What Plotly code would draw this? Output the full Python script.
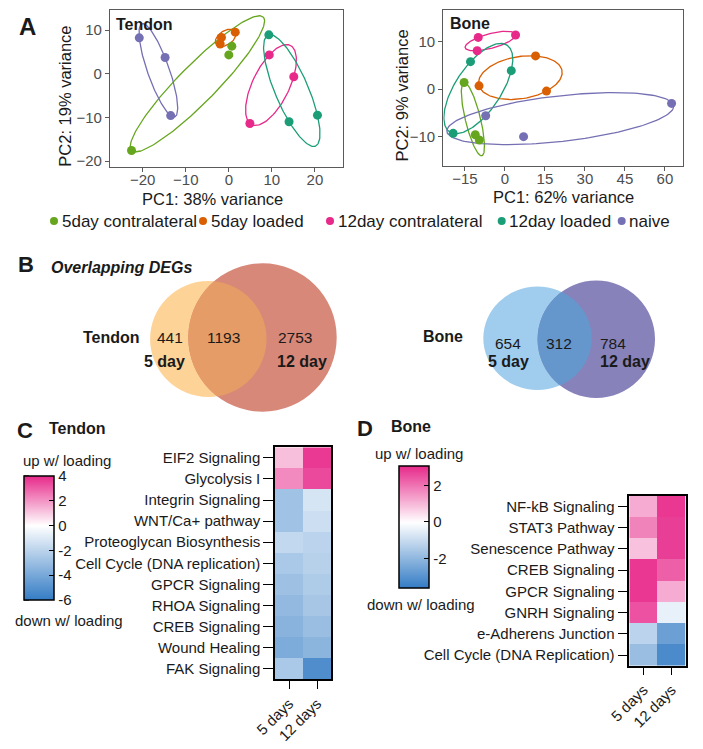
import numpy as np
import plotly.graph_objects as go

W, H = 703, 749
FONT = "Liberation Sans, Arial, Helvetica, sans-serif"

# ---------------- data ----------------
groups = ["5day contralateral", "5day loaded", "12day contralateral", "12day loaded", "naive"]
group_colors = ["#66A61E", "#D95F02", "#E7298A", "#1B9E77", "#7570B3"]

tendon_group = (["5day contralateral"] * 3 + ["5day loaded"] * 3 + ["12day contralateral"] * 3
                + ["12day loaded"] * 3 + ["naive"] * 3)
tendon_pc1 = [-22.6, 0.0, 0.7, -2.0, -1.7, 1.5, 9.4, 15.1, 4.9, 9.3, 14.0, 20.6, -20.8, -14.8, -13.5]
tendon_pc2 = [-17.6, 4.3, 6.3, 6.8, 8.3, 9.5, 4.3, -0.7, -11.4, 8.9, -11.0, -9.5, 8.2, 3.7, -9.6]

bone_group = list(tendon_group)
bone_pc1 = [-15.3, -11.1, -9.6, 11.5, -9.7, 15.6, -10.0, -10.4, 4.0, -12.9, 2.4, -19.4, -7.2, 7.0, 62.5]
bone_pc2 = [1.4, -9.6, -10.7, 7.0, 0.7, -0.4, 10.9, 8.1, 11.4, 5.8, 3.9, -9.3, -5.6, -10.0, -3.0]

tendon_xticks = [-20, -10, 0, 10, 20]
tendon_yticks = [-20, -10, 0, 10]
bone_xticks = [-15, 0, 15, 30, 45, 60]
bone_yticks = [-10, 0, 10]

venn_tendon = [441, 1193, 2753]
venn_bone = [654, 312, 784]

days = ["5 days", "12 days"]
tendon_pathways = ["EIF2 Signaling", "Glycolysis I", "Integrin Signaling", "WNT/Ca+ pathway",
                   "Proteoglycan Biosynthesis", "Cell Cycle (DNA replication)", "GPCR Signaling",
                   "RHOA Signaling", "CREB Signaling", "Wound Healing", "FAK Signaling"]
tendon_5d = [1.2, 2.2, -2.8, -2.8, -1.8, -2.5, -2.9, -3.2, -3.5, -3.8, -2.5]
tendon_12d = [3.7, 3.4, -1.2, -1.5, -2.0, -2.1, -2.4, -2.6, -3.0, -3.4, -5.2]
tendon_cb_ticks = [4, 2, 0, -2, -4, -6]

bone_pathways = ["NF-kB Signaling", "STAT3 Pathway", "Senescence Pathway", "CREB Signaling",
                 "GPCR Signaling", "GNRH Signaling", "e-Adherens Junction", "Cell Cycle (DNA Replication)"]
bone_5d = [1.2, 1.8, 0.9, 2.9, 2.9, 2.5, -1.2, -1.8]
bone_12d = [2.9, 2.8, 2.8, 2.3, 1.2, -0.4, -2.6, -3.2]
bone_cb_ticks = [2, 0, -2]


# ---------------- helpers ----------------
def px(x):
    return x / W


def py(y):
    return 1 - y / H


def ann(text, x, y, size, xanchor="center", yanchor="middle", color="#1a1a1a", angle=0):
    return dict(text=text, x=px(x), y=py(y), xref="paper", yref="paper", showarrow=False,
                xanchor=xanchor, yanchor=yanchor, textangle=angle,
                font=dict(size=size, color=color, family=FONT))


def group_ellipse(xs, ys, sx, sy, min_semi_px=7.0, min_ratio=0.2, n=160):
    """Ellipse around the group's points (mean + sqrt(4/3)*cov^(1/2)); the minor axis is
    kept at least min_ratio of the major axis (and min_semi_px) so thin groups stay visible."""
    k = np.sqrt(4 / 3)
    pts = np.column_stack([np.asarray(xs) * sx, np.asarray(ys) * sy])
    c = pts.mean(axis=0)
    cov = np.cov(pts.T)
    vals, vecs = np.linalg.eigh(cov)
    vals = np.maximum(vals, 0)
    vals[0] = max(vals[0], (min_ratio ** 2) * vals[1], (min_semi_px / k) ** 2)
    vals[1] = max(vals[1], (min_semi_px / k) ** 2)
    t = np.linspace(0, 2 * np.pi, n)
    circ = np.vstack([np.cos(t), np.sin(t)])
    e = c[:, None] + k * (vecs @ np.diag(np.sqrt(vals)) @ circ)
    return e[0] / sx, e[1] / sy


def poly_path(points):
    return "M " + " L ".join(f"{px(a):.5f},{py(b):.5f}" for a, b in points) + " Z"


def lens(c1, r1, c2, r2, n=400):
    t = np.linspace(0, 2 * np.pi, n, endpoint=False)
    pts = []
    for (c, r, co, ro) in [(c1, r1, c2, r2), (c2, r2, c1, r1)]:
        for a in t:
            x = c[0] + r[0] * np.cos(a)
            y = c[1] + r[1] * np.sin(a)
            if ((x - co[0]) / ro[0]) ** 2 + ((y - co[1]) / ro[1]) ** 2 <= 1:
                pts.append((x, y))
    pts = np.array(pts)
    m = pts.mean(axis=0)
    ang = np.arctan2(pts[:, 1] - m[1], pts[:, 0] - m[0])
    pts = pts[np.argsort(ang)]
    return poly_path(pts)


# panel geometry (pixels) and axis ranges
T_X_PX, T_Y_PX = (110, 343.3), (10, 167)
B_X_PX, B_Y_PX = (443.3, 682.5), (10, 166)
T_XR, T_YR = [-27.6, 26.6], [-21.37, 14.58]
B_XR, B_YR = [-23.1, 66.6], [-16.17, 16.67]

fig = go.Figure()

# ---------------- panel A: PCA scatter ----------------
panels = [
    (tendon_pc1, tendon_pc2, tendon_group, "x", "y", T_X_PX, T_Y_PX, T_XR, T_YR),
    (bone_pc1, bone_pc2, bone_group, "x2", "y2", B_X_PX, B_Y_PX, B_XR, B_YR),
]
for xs_all, ys_all, gs_all, xa, ya, xpx, ypx, xr, yr in panels:
    sx = (xpx[1] - xpx[0]) / (xr[1] - xr[0])
    sy = (ypx[1] - ypx[0]) / (yr[1] - yr[0])
    for g, col in zip(groups, group_colors):
        xs = [x for x, gg in zip(xs_all, gs_all) if gg == g]
        ys = [y for y, gg in zip(ys_all, gs_all) if gg == g]
        ex, ey = group_ellipse(xs, ys, sx, sy)
        fig.add_trace(go.Scatter(x=ex, y=ey, mode="lines", line=dict(color=col, width=1.3),
                                 xaxis=xa, yaxis=ya, showlegend=False, hoverinfo="skip"))
    for g, col in zip(groups, group_colors):
        xs = [x for x, gg in zip(xs_all, gs_all) if gg == g]
        ys = [y for y, gg in zip(ys_all, gs_all) if gg == g]
        fig.add_trace(go.Scatter(x=xs, y=ys, mode="markers", name=g,
                                 marker=dict(color=col, size=9), xaxis=xa, yaxis=ya,
                                 showlegend=False))


# ---------------- panels C, D: heatmaps ----------------
def colorscale(zmin, zmax):
    f0 = (0 - zmin) / (zmax - zmin)
    return [[0, "rgb(52,124,197)"], [f0, "rgb(255,255,255)"], [1, "rgb(231,41,138)"]]


cb_common = dict(xanchor="left", yanchor="middle", lenmode="pixels", thickness=30,
                 thicknessmode="pixels", xpad=0, ypad=0, outlinewidth=1.5, outlinecolor="black",
                 ticks="inside", ticklen=5, tickcolor="black", tickwidth=1.2,
                 tickfont=dict(size=15, color="#1a1a1a", family=FONT))

T_CB = dict(x=24, yc=538, len=124, zmin=-6, zmax=4)
B_CB = dict(x=399.5, yc=526.5, len=121.5, zmin=-3.6, zmax=3.1)

fig.add_trace(go.Heatmap(
    z=[[a, b] for a, b in zip(tendon_5d, tendon_12d)], x=days, y=tendon_pathways,
    zmin=T_CB["zmin"], zmax=T_CB["zmax"], colorscale=colorscale(T_CB["zmin"], T_CB["zmax"]),
    xaxis="x3", yaxis="y3",
    colorbar=dict(x=px(T_CB["x"]), y=py(T_CB["yc"]), len=T_CB["len"],
                  tickvals=tendon_cb_ticks, ticktext=[str(v) for v in tendon_cb_ticks], **cb_common)))

fig.add_trace(go.Heatmap(
    z=[[a, b] for a, b in zip(bone_5d, bone_12d)], x=days, y=bone_pathways,
    zmin=B_CB["zmin"], zmax=B_CB["zmax"], colorscale=colorscale(B_CB["zmin"], B_CB["zmax"]),
    xaxis="x4", yaxis="y4",
    colorbar=dict(x=px(B_CB["x"]), y=py(B_CB["yc"]), len=B_CB["len"],
                  tickvals=bone_cb_ticks, ticktext=[str(v) for v in bone_cb_ticks], **cb_common)))

# ---------------- axes ----------------
sc_common = dict(showline=True, mirror=True, linecolor="#5a5a5a", linewidth=1.2,
                 ticks="outside", ticklen=4, tickcolor="#5a5a5a", tickwidth=1,
                 showgrid=False, zeroline=False, automargin=False,
                 tickfont=dict(size=15, color="#4d4d4d", family=FONT))
hm_x = dict(showline=True, mirror=True, linecolor="black", linewidth=1.5,
            ticks="outside", ticklen=8, tickcolor="black", tickwidth=1.2, tickangle=-45,
            showgrid=False, zeroline=False, automargin=False,
            tickfont=dict(size=15, color="#1a1a1a", family=FONT))
hm_y = dict(showline=True, mirror=True, linecolor="black", linewidth=1.5,
            ticks="outside", ticklen=10, tickcolor="black", tickwidth=1.2, autorange="reversed",
            showgrid=False, zeroline=False, automargin=False,
            tickfont=dict(size=15, color="#1a1a1a", family=FONT))

fig.update_layout(
    xaxis=dict(domain=[px(T_X_PX[0]), px(T_X_PX[1])], range=T_XR, tickvals=tendon_xticks,
               anchor="y", ticklabelstandoff=-5, **sc_common),
    yaxis=dict(domain=[py(T_Y_PX[1]), py(T_Y_PX[0])], range=T_YR, tickvals=tendon_yticks,
               anchor="x", **sc_common),
    xaxis2=dict(domain=[px(B_X_PX[0]), px(B_X_PX[1])], range=B_XR, tickvals=bone_xticks,
                anchor="y2", ticklabelstandoff=-5, **sc_common),
    yaxis2=dict(domain=[py(B_Y_PX[1]), py(B_Y_PX[0])], range=B_YR, tickvals=bone_yticks,
                anchor="x2", **sc_common),
    xaxis3=dict(domain=[px(275), px(331)], anchor="y3", **hm_x),
    yaxis3=dict(domain=[py(679.3), py(447.3)], anchor="x3", **hm_y),
    xaxis4=dict(domain=[px(629.3), px(685.7)], anchor="y4", **hm_x),
    yaxis4=dict(domain=[py(665.7), py(495.7)], anchor="x4", **hm_y),
)

# ---------------- venn diagrams (panel B) ----------------
shapes = []


def circle(c, r, color):
    return dict(type="circle", xref="paper", yref="paper", x0=px(c[0] - r[0]), x1=px(c[0] + r[0]),
                y0=py(c[1] + r[1]), y1=py(c[1] - r[1]), fillcolor=color, line=dict(width=0),
                layer="below")


t_small_c, t_small_r = (208.3, 339.0), (58.2, 58.0)
t_big_c, t_big_r = (262.5, 337.5), (74.2, 74.2)
b_small_c, b_small_r = (537.5, 338.3), (54.2, 51.7)
b_big_c, b_big_r = (596.3, 339.3), (58.7, 58.7)

shapes.append(circle(t_small_c, t_small_r, "rgb(253,211,152)"))
shapes.append(circle(t_big_c, t_big_r, "rgb(215,136,121)"))
shapes.append(dict(type="path", xref="paper", yref="paper",
                   path=lens(t_small_c, t_small_r, t_big_c, t_big_r),
                   fillcolor="rgb(230,156,102)", line=dict(width=0), layer="below"))
shapes.append(circle(b_small_c, b_small_r, "rgb(160,205,238)"))
shapes.append(circle(b_big_c, b_big_r, "rgb(135,131,186)"))
shapes.append(dict(type="path", xref="paper", yref="paper",
                   path=lens(b_small_c, b_small_r, b_big_c, b_big_r),
                   fillcolor="rgb(101,151,205)", line=dict(width=0), layer="below"))

# colorbar tick marks on the left edge (mirroring the inside ticks on the right)
for cb, ticks in [(T_CB, tendon_cb_ticks), (B_CB, bone_cb_ticks)]:
    top = cb["yc"] - cb["len"] / 2
    for v in ticks:
        yv = top + (cb["zmax"] - v) / (cb["zmax"] - cb["zmin"]) * cb["len"]
        shapes.append(dict(type="line", xref="paper", yref="paper",
                           x0=px(cb["x"]), x1=px(cb["x"] + 5), y0=py(yv), y1=py(yv),
                           line=dict(color="black", width=1.2)))

# legend dots
legend_dot_x = [54, 203, 330, 501.7, 621.7]
legend_text_x = [60, 209, 336, 507, 627]
LEG_Y = 221
for gx, col in zip(legend_dot_x, group_colors):
    shapes.append(dict(type="circle", xref="paper", yref="paper", x0=px(gx - 4), x1=px(gx + 4),
                       y0=py(LEG_Y + 4), y1=py(LEG_Y - 4), fillcolor=col, line=dict(width=0)))

annotations = []
for tx, g in zip(legend_text_x, groups):
    annotations.append(ann(g, tx, LEG_Y, 17, xanchor="left", color="#1a1a1a"))

# panel A texts
annotations += [
    ann("<b>A</b>", 27, 27, 24, color="#1a1a1a"),
    ann("<b>Tendon</b>", 114, 24, 16, xanchor="left"),
    ann("<b>Bone</b>", 448, 23.5, 16, xanchor="left"),
    ann("PC1: 38% variance", 212.7, 199.3, 16.5),
    ann("PC1: 62% variance", 563, 197, 16.5),
    ann("PC2: 19% variance", 65, 96.7, 16.5, angle=-90),
    ann("PC2: 9% variance", 401.7, 95.8, 16.5, angle=-90),
]

# panel B texts
annotations += [
    ann("<b>B</b>", 26, 264, 22),
    ann("<b><i>Overlapping DEGs</i></b>", 49, 267, 16, xanchor="left"),
    ann("<b>Tendon</b>", 111.7, 337.7, 16),
    ann(str(venn_tendon[0]), 169.7, 337.7, 15.5),
    ann(str(venn_tendon[1]), 223, 337.7, 15.5),
    ann(str(venn_tendon[2]), 295.3, 337.7, 15.5),
    ann("<b>5 day</b>", 164.5, 361, 16),
    ann("<b>12 day</b>", 302, 361, 16),
    ann("<b>Bone</b>", 442.7, 336.7, 16),
    ann(str(venn_bone[0]), 507.8, 343.3, 15.5),
    ann(str(venn_bone[1]), 559.3, 343.3, 15.5),
    ann(str(venn_bone[2]), 613, 343.3, 15.5),
    ann("<b>5 day</b>", 508.8, 361.7, 16),
    ann("<b>12 day</b>", 625.3, 361.7, 16),
]

# panels C, D texts
annotations += [
    ann("<b>C</b>", 25, 430, 22),
    ann("<b>Tendon</b>", 47, 428, 16, xanchor="left"),
    ann("up w/ loading", 66.5, 460, 15),
    ann("down w/ loading", 68.5, 620, 15),
    ann("<b>D</b>", 365, 428, 22),
    ann("<b>Bone</b>", 389, 427, 16, xanchor="left"),
    ann("up w/ loading", 418.5, 453, 15),
    ann("down w/ loading", 420.5, 604, 15),
]

fig.update_layout(
    template="none",
    width=W, height=H, autosize=False,
    margin=dict(l=0, r=0, t=0, b=0, pad=0),
    paper_bgcolor="white", plot_bgcolor="rgba(0,0,0,0)",
    font=dict(family=FONT, size=15, color="#1a1a1a"),
    showlegend=False,
    shapes=shapes, annotations=annotations,
)

fig.write_html("out.html", post_script="document.body.style.margin='0px';",
               config={"displayModeBar": False})
